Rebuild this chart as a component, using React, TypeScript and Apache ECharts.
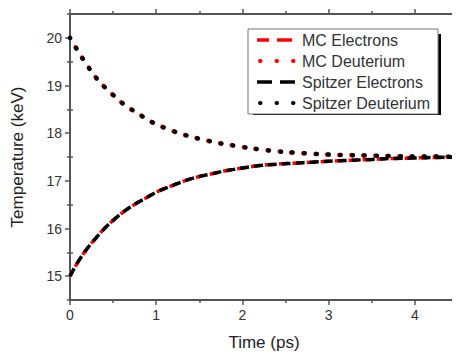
import React, { useEffect, useRef } from "react";
import * as echarts from "echarts";

const times = [0, 0.1, 0.2, 0.3, 0.4, 0.5, 0.6, 0.7, 0.8, 0.9, 1.0, 1.1, 1.2, 1.3, 1.4, 1.5, 1.6, 1.7, 1.8, 1.9, 2.0, 2.2, 2.4, 2.6, 2.8, 3.0, 3.25, 3.5, 3.75, 4.0, 4.25, 4.5];
const spitzerDeuterium = [20.0, 19.7, 19.42, 19.17, 18.97, 18.8, 18.64, 18.51, 18.4, 18.28, 18.19, 18.11, 18.04, 17.98, 17.93, 17.88, 17.84, 17.8, 17.77, 17.74, 17.71, 17.66, 17.62, 17.59, 17.57, 17.55, 17.54, 17.53, 17.52, 17.51, 17.51, 17.5];
const spitzerElectrons = [15.0, 15.32, 15.58, 15.8, 16.0, 16.17, 16.32, 16.45, 16.56, 16.66, 16.76, 16.84, 16.91, 16.98, 17.04, 17.09, 17.13, 17.17, 17.21, 17.24, 17.27, 17.32, 17.35, 17.37, 17.39, 17.41, 17.43, 17.45, 17.47, 17.48, 17.49, 17.5];
const mcDeuterium = [20.0, 19.7, 19.42, 19.17, 18.97, 18.8, 18.64, 18.51, 18.4, 18.28, 18.19, 18.11, 18.04, 17.98, 17.93, 17.88, 17.84, 17.8, 17.77, 17.74, 17.71, 17.66, 17.62, 17.59, 17.57, 17.55, 17.54, 17.53, 17.52, 17.51, 17.51, 17.5];
const mcElectrons = [15.0, 15.32, 15.58, 15.8, 16.0, 16.17, 16.32, 16.45, 16.56, 16.66, 16.76, 16.84, 16.91, 16.98, 17.04, 17.09, 17.13, 17.17, 17.21, 17.24, 17.27, 17.32, 17.35, 17.37, 17.39, 17.41, 17.43, 17.45, 17.47, 17.48, 17.49, 17.5];
const seriesNames = ["MC Electrons", "MC Deuterium", "Spitzer Electrons", "Spitzer Deuterium"];
const yMajorTicks = [15, 16, 17, 18, 19, 20];
const yMinorTicks = [14.5, 15.5, 16.5, 17.5, 18.5, 19.5, 20.5];

const pair = (ys: number[]) => times.map((t, i) => [t, ys[i]]);

const FONT = "'Liberation Sans', Arial, sans-serif";
const AXIS_COLOR = "#555";

export default function App() {
  const ref = useRef<HTMLDivElement>(null);
  useEffect(() => {
    const chart = echarts.init(ref.current!, null, { renderer: "svg" });
    const dashed = [9, 5];
    const dotted = [0.5, 11.5];
    const tickStyle = { color: AXIS_COLOR, width: 1.5 };
    const xCommon = {
      type: "value" as const,
      min: 0,
      max: 4.5,
      interval: 1,
      axisLine: { show: true, onZero: false, lineStyle: { color: AXIS_COLOR, width: 2 } },
      axisTick: { show: true, inside: false, length: 5, lineStyle: tickStyle },
      minorTick: { show: true, splitNumber: 2, length: 3, lineStyle: tickStyle },
      splitLine: { show: false },
    };
    const yMajor = (position: "left" | "right", labels: boolean) => ({
      type: "value" as const,
      min: 14.5,
      max: 20.5,
      interval: 0.5,
      position,
      axisLine: { show: true, onZero: false, lineStyle: { color: AXIS_COLOR, width: 2 } },
      axisTick: { show: true, inside: false, length: 5, lineStyle: tickStyle, customValues: yMajorTicks },
      splitLine: { show: false },
      axisLabel: labels
        ? { show: true, margin: 8, fontFamily: FONT, fontSize: 14, color: "#333", customValues: yMajorTicks }
        : { show: false },
    });
    const yMinor = (position: "left" | "right") => ({
      type: "value" as const,
      min: 14.5,
      max: 20.5,
      interval: 0.5,
      position,
      axisLine: { show: false },
      axisTick: { show: true, inside: false, length: 3, lineStyle: tickStyle, customValues: yMinorTicks },
      splitLine: { show: false },
      axisLabel: { show: false },
    });
    const legendData = [
      { name: seriesNames[0], lineStyle: { type: [15, 8], width: 3.5 } },
      { name: seriesNames[1], lineStyle: { type: [0.5, 16], width: 4, cap: "round", dashOffset: -3 } },
      { name: seriesNames[2], lineStyle: { type: [15, 8], width: 3.5 } },
      { name: seriesNames[3], lineStyle: { type: [0.5, 16], width: 4, cap: "round", dashOffset: -3 } },
    ];
    chart.setOption({
      animation: false,
      backgroundColor: "#fff",
      grid: { left: 70, right: 2, top: 14, bottom: 53, containLabel: false },
      xAxis: [
        {
          ...xCommon,
          position: "bottom",
          name: "Time (ps)",
          nameLocation: "middle",
          nameGap: 34,
          nameTextStyle: { fontFamily: FONT, fontSize: 17, color: "#222" },
          axisLabel: { margin: 8, fontFamily: FONT, fontSize: 14, color: "#333", showMaxLabel: false },
        },
        { ...xCommon, position: "top", axisLabel: { show: false } },
      ],
      yAxis: [
        {
          ...yMajor("left", true),
          name: "Temperature (keV)",
          nameLocation: "middle",
          nameGap: 44,
          nameTextStyle: { fontFamily: FONT, fontSize: 17, color: "#222" },
        },
        yMajor("right", false),
        yMinor("left"),
        yMinor("right"),
      ],
      legend: {
        orient: "vertical",
        left: 248,
        top: 29,
        padding: [3, 8, 3, 7],
        itemWidth: 40,
        itemHeight: 14,
        itemGap: 5,
        backgroundColor: "#fff",
        borderColor: "#777",
        borderWidth: 1,
        itemStyle: { opacity: 0 },
        z: 10,
        data: legendData,
        textStyle: { fontFamily: FONT, fontSize: 16, color: "#333", lineHeight: 16 },
      },
      graphic: [
        {
          type: "rect",
          z: 1,
          shape: { x: 253, y: 34, width: 188, height: 81 },
          style: { fill: "#000" },
        },
      ],
      series: [
        {
          name: seriesNames[0],
          type: "line",
          data: pair(mcElectrons),
          showSymbol: false,
          symbol: "none",
          smooth: true,
          color: "#ff0000",
          lineStyle: { color: "#ff0000", width: 3.5, type: dashed, dashOffset: 3 },
        },
        {
          name: seriesNames[1],
          type: "line",
          data: pair(mcDeuterium),
          showSymbol: false,
          symbol: "none",
          smooth: true,
          color: "#ff0000",
          lineStyle: { color: "#ff0000", width: 4.5, type: dotted, cap: "round", dashOffset: 1 },
        },
        {
          name: seriesNames[2],
          type: "line",
          data: pair(spitzerElectrons),
          showSymbol: false,
          symbol: "none",
          smooth: true,
          color: "#000",
          lineStyle: { color: "#000", width: 3.5, type: dashed },
        },
        {
          name: seriesNames[3],
          type: "line",
          data: pair(spitzerDeuterium),
          showSymbol: false,
          symbol: "none",
          smooth: true,
          color: "#000",
          lineStyle: { color: "#000", width: 4.5, type: dotted, cap: "round" },
        },
      ],
    });
    return () => chart.dispose();
  }, []);
  return <div ref={ref} style={{ width: 460, height: 356, marginLeft: -8, marginTop: -8 }} />;
}
